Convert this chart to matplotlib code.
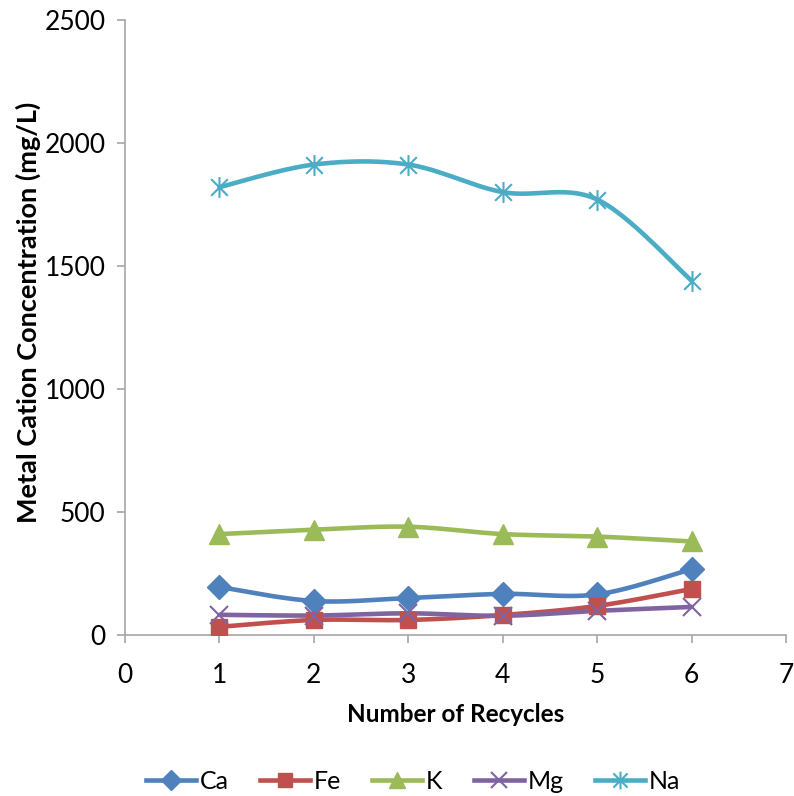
import numpy as np
import matplotlib.pyplot as plt
from matplotlib.path import Path

plt.rcParams['font.family'] = ['Lato', 'DejaVu Sans']

recycles = [1, 2, 3, 4, 5, 6]
ca = [195, 138, 150, 167, 165, 268]
fe = [33, 61, 61, 81, 118, 187]
k = [410, 428, 440, 410, 400, 380]
mg = [82, 79, 88, 78, 98, 114]
na = [1820, 1912, 1912, 1800, 1770, 1440]

names = ["Ca", "Fe", "K", "Mg", "Na"]
colors = ["#4F81BD", "#C0504D", "#9BBB59", "#8064A2", "#4BACC6"]

# excel-like asterisk marker: vertical bar plus an x
star = Path([(0, -1), (0, 1), (-0.8, -0.8), (0.8, 0.8), (-0.8, 0.8), (0.8, -0.8)],
            [Path.MOVETO, Path.LINETO] * 3)
markers = ["D", "s", "^", "x", star]
msizes = [12, 12, 14, 13, 15]


def smooth(x, y, n=30):
    # catmull-rom style curve through the points, like excel's smoothed line
    x = np.asarray(x, float)
    y = np.asarray(y, float)
    px = np.concatenate([[x[0]], x, [x[-1]]])
    py = np.concatenate([[y[0]], y, [y[-1]]])
    xs, ys = [], []
    t = np.linspace(0, 1, n)
    for i in range(1, len(px) - 2):
        p0, p1, p2, p3 = np.array([px[i-1:i+3], py[i-1:i+3]]).T
        c1 = p1 + (p2 - p0) / 6
        c2 = p2 - (p3 - p1) / 6
        pts = ((1-t)**3)[:, None]*p1 + (3*(1-t)**2*t)[:, None]*c1 + (3*(1-t)*t**2)[:, None]*c2 + (t**3)[:, None]*p2
        xs.extend(pts[:, 0])
        ys.extend(pts[:, 1])
    return xs, ys


fig = plt.figure(figsize=(7.94, 7.96), dpi=100)
ax = fig.add_axes([0.1574, 0.2023, 0.8326, 0.7727])

for name, vals, c, m, ms in zip(names, [ca, fe, k, mg, na], colors, markers, msizes):
    sx, sy = smooth(recycles, vals)
    ax.plot(sx, sy, color=c, lw=3.3, solid_capstyle="round", zorder=2)
    mew = 1.5 if name in ("Mg", "Na") else 1
    ax.plot(recycles, vals, ls="none", marker=m, ms=ms, color=c, mew=mew, zorder=3)
    ax.plot([], [], color=c, lw=3.3, marker=m, ms=ms * 0.85, mew=mew, label=name)

ax.set_xlim(0, 7)
ax.set_ylim(0, 2500)
ax.set_xticks(range(0, 8))
ax.set_yticks(range(0, 2501, 500))
for s in ["top", "right"]:
    ax.spines[s].set_visible(False)
for s in ["left", "bottom"]:
    ax.spines[s].set_color("#A6A6A6")
    ax.spines[s].set_linewidth(1.2)
ax.tick_params(colors="#A6A6A6", labelcolor="black", labelsize=19, length=6, width=1.2, pad=8)
ax.tick_params(axis="x", pad=14)

ax.set_xlabel("Number of Recycles", fontsize=17.5, fontweight="bold")
ax.set_ylabel("Metal Cation Concentration (mg/L)", fontsize=19.5, fontweight="bold")
ax.xaxis.set_label_coords(0.5, -0.11)
ax.yaxis.set_label_coords(-0.127, 0.524)

fig.legend(loc="center", bbox_to_anchor=(0.52, 0.018), ncol=5, frameon=False,
           fontsize=18, handlelength=2.0, handletextpad=0.15, columnspacing=1.25)

fig.savefig("out.png", dpi=100)
